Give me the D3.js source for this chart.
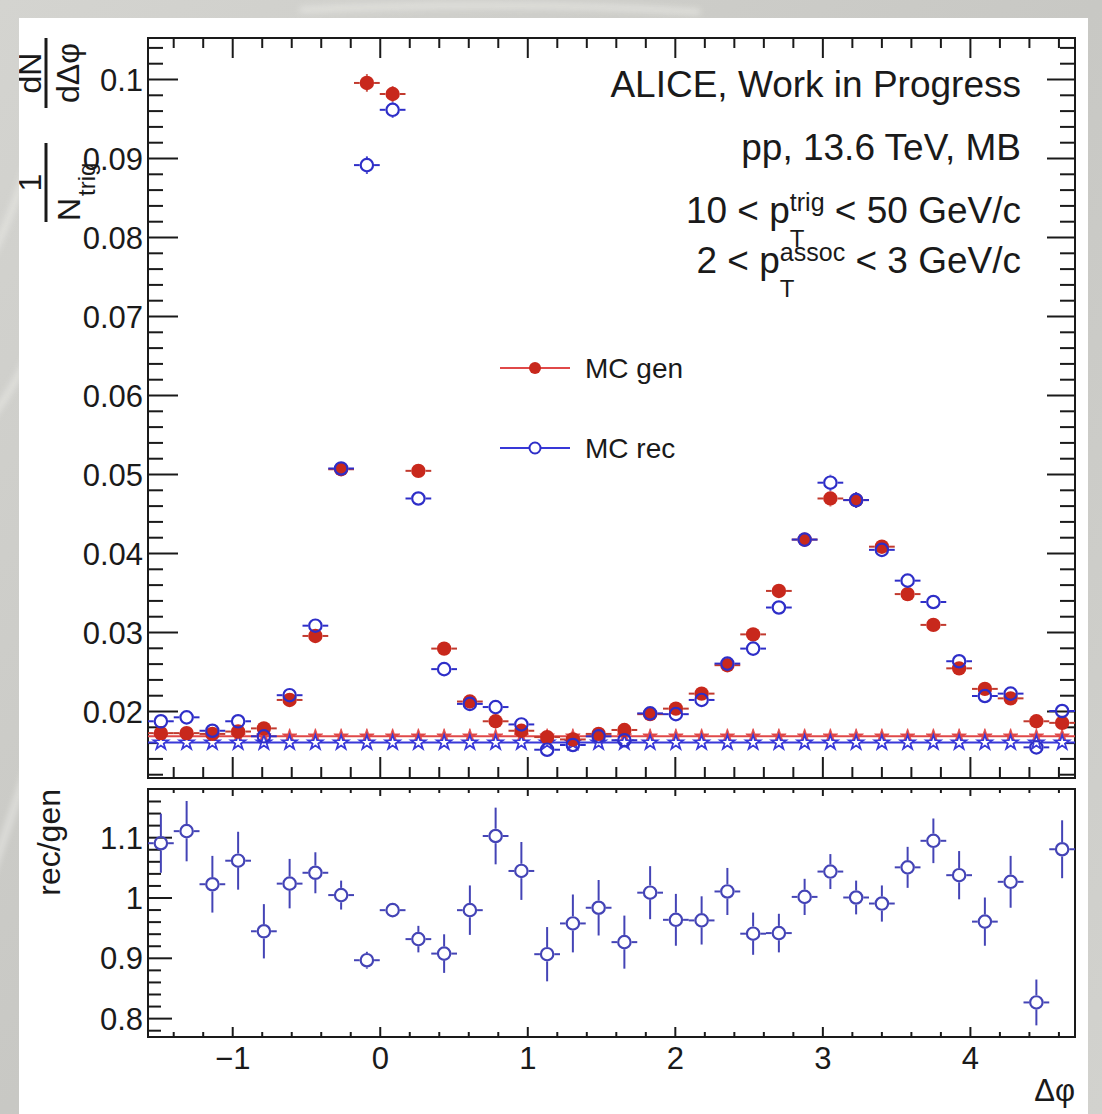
<!DOCTYPE html>
<html>
<head>
<meta charset="utf-8">
<script src="https://cdn.jsdelivr.net/npm/d3@7"></script>
<style>
  html, body { margin: 0; padding: 0; background: #cfcfcb; }
  svg { display: block; }
  text { font-family: "Liberation Sans", Arial, Helvetica, sans-serif; }
</style>
</head>
<body>
<svg id="chart" width="1102" height="1114"></svg>
<script>
// ---- binning of the azimuthal difference ----
const phiMin = -Math.PI / 2;
const phiMax = 3 * Math.PI / 2;
const nBins = 36;

// ---- per-trigger yields, MC generated (filled red) ----
const genValues = [
  0.0172, 0.0172, 0.0171, 0.0174, 0.0178, 0.0214, 0.0295, 0.0506, 0.0995, 0.0981,
  0.0504, 0.0279, 0.0212, 0.0187, 0.0175, 0.0167, 0.0164, 0.0171, 0.0176, 0.0196,
  0.0203, 0.0222, 0.0258, 0.0297, 0.0352, 0.0417, 0.0469, 0.0467, 0.0408, 0.0348,
  0.0309, 0.0254, 0.0228, 0.0216, 0.0187, 0.0185
];
const genErrors = [
  0.0006, 0.0006, 0.0006, 0.0006, 0.0006, 0.0006, 0.0007, 0.0009, 0.0011, 0.0010,
  0.0008, 0.0006, 0.0006, 0.0006, 0.0006, 0.0006, 0.0006, 0.0006, 0.0006, 0.0006,
  0.0006, 0.0006, 0.0007, 0.0007, 0.0008, 0.0009, 0.0010, 0.0010, 0.0009, 0.0008,
  0.0008, 0.0007, 0.0007, 0.0007, 0.0006, 0.0006
];

// ---- per-trigger yields, MC reconstructed (open blue) ----
const recValues = [
  0.0187, 0.0192, 0.0175, 0.0187, 0.0168, 0.0220, 0.0308, 0.0507, 0.0891, 0.0961,
  0.0469, 0.0253, 0.0209, 0.0205, 0.0183, 0.0151, 0.0157, 0.0168, 0.0163, 0.0197,
  0.0196, 0.0214, 0.0260, 0.0279, 0.0331, 0.0417, 0.0489, 0.0467, 0.0404, 0.0365,
  0.0338, 0.0263, 0.0219, 0.0222, 0.0154, 0.0200
];
const recErrors = [
  0.0006, 0.0006, 0.0006, 0.0006, 0.0006, 0.0006, 0.0007, 0.0009, 0.0011, 0.0010,
  0.0008, 0.0006, 0.0006, 0.0006, 0.0006, 0.0006, 0.0006, 0.0006, 0.0006, 0.0006,
  0.0006, 0.0006, 0.0007, 0.0007, 0.0008, 0.0009, 0.0010, 0.0010, 0.0009, 0.0008,
  0.0008, 0.0007, 0.0007, 0.0007, 0.0006, 0.0006
];

// ---- flat baselines (star markers) ----
const genBaseline = 0.0168;
const recBaseline = 0.0160;

// ---- rec/gen ratio ----
const ratioValues = [
  1.090, 1.110, 1.022, 1.061, 0.944, 1.023, 1.041, 1.004, 0.896, 0.979,
  0.931, 0.907, 0.979, 1.102, 1.044, 0.906, 0.957, 0.983, 0.926, 1.008,
  0.963, 0.962, 1.010, 0.940, 0.941, 1.001, 1.043, 1.000, 0.990, 1.050,
  1.094, 1.037, 0.960, 1.026, 0.826, 1.080
];
const ratioErrors = [
  0.049, 0.050, 0.047, 0.048, 0.045, 0.041, 0.034, 0.024, 0.014, 0.012,
  0.022, 0.032, 0.041, 0.047, 0.048, 0.045, 0.048, 0.046, 0.044, 0.044,
  0.043, 0.040, 0.039, 0.035, 0.032, 0.030, 0.029, 0.028, 0.030, 0.034,
  0.037, 0.040, 0.040, 0.043, 0.038, 0.048
];

// ---- tick labels ----
const yieldTicks = [0.02, 0.03, 0.04, 0.05, 0.06, 0.07, 0.08, 0.09, 0.1];
const yieldTickLabels = ["0.02", "0.03", "0.04", "0.05", "0.06", "0.07", "0.08", "0.09", "0.1"];
const ratioTicks = [0.8, 0.9, 1.0, 1.1];
const ratioTickLabels = ["0.8", "0.9", "1", "1.1"];
const phiTicks = [-1, 0, 1, 2, 3, 4];
const phiTickLabels = ["\u22121", "0", "1", "2", "3", "4"];

// ---- layout ----
const FONT = '"Liberation Sans", Arial, Helvetica, sans-serif';
const canvasBox = { x0: 19, y0: 18, x1: 1088, y1: 1114 };
const topPad = { left: 148, right: 1075, top: 38, bottom: 778 };
const ratioPad = { left: 148, right: 1075, top: 789, bottom: 1037 };

const colGen = "#c8281c";
const colGenBar = "#c23a2e";
const colRec = "#2e2ec8";
const colRatio = "#4444b6";
const colGenLine = "#e04848";
const colRecLine = "#3838d8";
const ink = "#1a1a1a";

const svg = d3.select("#chart");

// photo backdrop around the canvas
const defs = svg.append("defs");
const bg = defs.append("linearGradient").attr("id", "bgGrad")
  .attr("x1", 0).attr("y1", 0).attr("x2", 1).attr("y2", 1);
bg.append("stop").attr("offset", 0).attr("stop-color", "#d4d4d0");
bg.append("stop").attr("offset", 0.5).attr("stop-color", "#c8c8c4");
bg.append("stop").attr("offset", 1).attr("stop-color", "#d2d2ce");
svg.append("rect").attr("width", 1102).attr("height", 1114).attr("fill", "url(#bgGrad)");
defs.append("filter").attr("id", "soft").append("feGaussianBlur").attr("stdDeviation", 3);
const swoosh = svg.append("g").attr("filter", "url(#soft)").attr("fill", "none")
  .attr("stroke", "#e6e6e2").attr("stroke-width", 6).attr("opacity", 0.8);
swoosh.append("path").attr("d", "M-10,260 Q20,200 40,120");
swoosh.append("path").attr("d", "M-10,420 Q20,380 40,330");
swoosh.append("path").attr("d", "M-10,880 Q10,820 30,760");
swoosh.append("path").attr("d", "M300,10 Q500,0 700,12");

// white canvas
defs.append("clipPath").attr("id", "canvasClip").append("rect")
  .attr("x", canvasBox.x0).attr("y", canvasBox.y0)
  .attr("width", canvasBox.x1 - canvasBox.x0).attr("height", canvasBox.y1 - canvasBox.y0);
svg.append("rect")
  .attr("x", canvasBox.x0).attr("y", canvasBox.y0)
  .attr("width", canvasBox.x1 - canvasBox.x0).attr("height", canvasBox.y1 - canvasBox.y0)
  .attr("fill", "#ffffff");

const root = svg.append("g").attr("clip-path", "url(#canvasClip)");

// ---- scales ----
const binWidth = (phiMax - phiMin) / nBins;
const binCenters = d3.range(nBins).map(i => phiMin + (i + 0.5) * binWidth);

const x = d3.scaleLinear().domain([phiMin, phiMax]).range([topPad.left, topPad.right]);
const yTop = d3.scaleLinear().domain([0.01152, 0.10519]).range([topPad.bottom, topPad.top]);
const yRatio = d3.scaleLinear().domain([0.7687, 1.1799]).range([ratioPad.bottom, ratioPad.top]);

// ---- axis helper (ROOT style: ticks point into the frame) ----
function tickAxis(axisFn, scale, values, len, transform, labels, pad) {
  const a = axisFn(scale).tickValues(values).tickSize(-len)
    .tickPadding(pad || 6)
    .tickFormat(labels ? ((d, i) => labels[i]) : () => "");
  const g = root.append("g").attr("transform", transform).call(a);
  g.select(".domain").remove();
  g.attr("font-family", FONT).attr("font-size", 31);
  g.selectAll(".tick line").attr("stroke", ink).attr("stroke-width", 2);
  g.selectAll(".tick text").attr("fill", ink);
  return g;
}
const inDomain = (s) => (v) => v >= s.domain()[0] - 1e-9 && v <= s.domain()[1] + 1e-9;
const phiMajor = phiTicks;
const phiMinor = d3.range(-10, 30).map(k => k / 5)
  .filter(v => Math.abs(v - Math.round(v)) > 1e-6).filter(inDomain(x));
const yieldMinor = d3.range(5, 60).map(k => k * 0.002).filter(inDomain(yTop))
  .filter(v => Math.abs(v * 100 - Math.round(v * 100)) > 1e-6);
const ratioMinor = d3.range(30, 70).map(k => k * 0.02).filter(inDomain(yRatio))
  .filter(v => Math.abs(v * 10 - Math.round(v * 10)) > 1e-6);

// ---- upper pad axes ----
tickAxis(d3.axisLeft, yTop, yieldMinor, 15, `translate(${topPad.left},0)`);
tickAxis(d3.axisLeft, yTop, yieldTicks, 30, `translate(${topPad.left},0)`, yieldTickLabels, 5)
  .selectAll(".tick text").attr("dy", "0.36em");
tickAxis(d3.axisRight, yTop, yieldMinor, 15, `translate(${topPad.right},0)`);
tickAxis(d3.axisRight, yTop, yieldTicks, 28, `translate(${topPad.right},0)`);
tickAxis(d3.axisTop, x, phiMinor, 10, `translate(0,${topPad.top})`);
tickAxis(d3.axisTop, x, phiMajor, 20, `translate(0,${topPad.top})`);
tickAxis(d3.axisBottom, x, phiMinor, 11, `translate(0,${topPad.bottom})`);
tickAxis(d3.axisBottom, x, phiMajor, 21, `translate(0,${topPad.bottom})`);
root.append("rect")
  .attr("x", topPad.left).attr("y", topPad.top)
  .attr("width", topPad.right - topPad.left).attr("height", topPad.bottom - topPad.top)
  .attr("fill", "none").attr("stroke", ink).attr("stroke-width", 2);

// ---- ratio pad axes ----
tickAxis(d3.axisLeft, yRatio, ratioMinor, 13, `translate(${ratioPad.left},0)`);
tickAxis(d3.axisLeft, yRatio, ratioTicks, 24, `translate(${ratioPad.left},0)`, ratioTickLabels, 5)
  .selectAll(".tick text").attr("dy", "0.36em");
tickAxis(d3.axisBottom, x, phiMinor, 5, `translate(0,${ratioPad.bottom})`);
tickAxis(d3.axisBottom, x, phiMajor, 10, `translate(0,${ratioPad.bottom})`, phiTickLabels, 10);
tickAxis(d3.axisTop, x, phiMinor, 4, `translate(0,${ratioPad.top})`);
tickAxis(d3.axisTop, x, phiMajor, 7, `translate(0,${ratioPad.top})`);
root.append("rect")
  .attr("x", ratioPad.left).attr("y", ratioPad.top)
  .attr("width", ratioPad.right - ratioPad.left).attr("height", ratioPad.bottom - ratioPad.top)
  .attr("fill", "none").attr("stroke", ink).attr("stroke-width", 2);

// ---- markers with error bars (bars stop at the marker edge) ----
function drawPoints(g, vals, errs, yScale, opt) {
  const r = opt.r;
  vals.forEach((v, i) => {
    const c = binCenters[i];
    const cx = x(c), cy = yScale(v);
    const xl = x(c - binWidth / 2), xr = x(c + binWidth / 2);
    const yt = yScale(v + errs[i]), yb = yScale(v - errs[i]);
    const segs = [[xl, cy, cx - r, cy], [cx + r, cy, xr, cy]];
    if (yt < cy - r) segs.push([cx, yt, cx, cy - r]);
    if (yb > cy + r) segs.push([cx, cy + r, cx, yb]);
    segs.forEach(s => g.append("line")
      .attr("x1", s[0]).attr("y1", s[1]).attr("x2", s[2]).attr("y2", s[3])
      .attr("stroke", opt.bar).attr("stroke-width", opt.barWidth));
    g.append("circle").attr("cx", cx).attr("cy", cy).attr("r", opt.filled ? r : r - 1)
      .attr("fill", opt.filled ? opt.color : "none")
      .attr("stroke", opt.color).attr("stroke-width", opt.filled ? 0 : 2.2);
  });
}

// baselines with star markers
const star = d3.symbol().type(d3.symbolStar).size(66);
function drawBaseline(g, level, color, filled) {
  g.append("line")
    .attr("x1", topPad.left).attr("x2", topPad.right)
    .attr("y1", yTop(level)).attr("y2", yTop(level))
    .attr("stroke", color).attr("stroke-width", 2);
  g.selectAll(null).data(binCenters).join("path")
    .attr("d", star)
    .attr("transform", d => `translate(${x(d)},${yTop(level)})`)
    .attr("fill", filled ? color : "#ffffff")
    .attr("stroke", color).attr("stroke-width", filled ? 0.8 : 1.7);
}

defs.append("clipPath").attr("id", "topClip").append("rect")
  .attr("x", topPad.left).attr("y", topPad.top)
  .attr("width", topPad.right - topPad.left).attr("height", topPad.bottom - topPad.top);
const topLayer = root.append("g").attr("clip-path", "url(#topClip)");
drawBaseline(topLayer, genBaseline, colGenLine, true);
drawBaseline(topLayer, recBaseline, colRecLine, false);
drawPoints(topLayer.append("g"), genValues, genErrors, yTop,
  { r: 7.2, color: colGen, bar: colGenBar, barWidth: 2, filled: true });
drawPoints(topLayer.append("g"), recValues, recErrors, yTop,
  { r: 7.2, color: colRec, bar: colRec, barWidth: 2, filled: false });

const ratioLayer = root.append("g");
drawPoints(ratioLayer, ratioValues, ratioErrors, yRatio,
  { r: 7.2, color: colRatio, bar: colRatio, barWidth: 2, filled: false });

// ---- legend ----
const legend = root.append("g").attr("font-family", FONT).attr("font-size", 28).attr("fill", ink);
[
  { label: "MC gen", y: 368, color: colGenLine, mark: colGen, filled: true },
  { label: "MC rec", y: 448, color: colRecLine, mark: colRec, filled: false }
].forEach(e => {
  legend.append("line").attr("x1", 500).attr("x2", 570).attr("y1", e.y).attr("y2", e.y)
    .attr("stroke", e.color).attr("stroke-width", 2);
  legend.append("circle").attr("cx", 535).attr("cy", e.y).attr("r", e.filled ? 6 : 5.5)
    .attr("fill", e.filled ? e.mark : "#ffffff").attr("stroke", e.mark)
    .attr("stroke-width", e.filled ? 0 : 2);
  legend.append("text").attr("x", 585).attr("y", e.y + 10).text(e.label);
});

// ---- annotations (right aligned) ----
const note = root.append("g").attr("font-family", FONT).attr("fill", ink);
const noteRight = 1021;
note.append("text").attr("x", noteRight).attr("y", 97).attr("text-anchor", "end")
  .attr("font-size", 37).text("ALICE, Work in Progress");
note.append("text").attr("x", noteRight).attr("y", 160).attr("text-anchor", "end")
  .attr("font-size", 37).text("pp, 13.6 TeV, MB");

function ptLine(y, lead, sup, tail) {
  const tailEl = note.append("text").attr("x", noteRight).attr("y", y)
    .attr("text-anchor", "end").attr("font-size", 37).text(tail);
  const tailW = tailEl.node().getComputedTextLength();
  const supEl = note.append("text").attr("y", y - 12).attr("font-size", 25).text(sup);
  const subEl = note.append("text").attr("y", y + 24).attr("font-size", 24).text("T");
  const blockW = Math.max(supEl.node().getComputedTextLength(), subEl.node().getComputedTextLength());
  const blockX = noteRight - tailW - blockW;
  supEl.attr("x", blockX);
  subEl.attr("x", blockX);
  note.append("text").attr("x", blockX).attr("y", y)
    .attr("text-anchor", "end").attr("font-size", 37).text(lead);
}
ptLine(223, "10 < p", "trig", "\u00A0< 50 GeV/c");
ptLine(273, "2 < p", "assoc", "\u00A0< 3 GeV/c");

// ---- axis titles ----
const titles = root.append("g").attr("font-family", FONT).attr("fill", ink);
// 1/N_trig dN/dΔφ, rotated, laid out along the vertical
const yTitle = titles.append("g").attr("transform", "rotate(-90)");
function frac(g, num, uMin, uMax) {
  const uc = (uMin + uMax) / 2;
  g.append("line").attr("x1", uMin).attr("x2", uMax).attr("y1", 46).attr("y2", 46)
    .attr("stroke", ink).attr("stroke-width", 3);
  g.append("text").attr("x", uc).attr("y", 41).attr("text-anchor", "middle")
    .attr("font-size", 32).text(num);
  return uc;
}
const uc1 = frac(yTitle, "dN", -108, -38);
yTitle.append("text").attr("x", uc1).attr("y", 79).attr("text-anchor", "middle")
  .attr("font-size", 32).text("d\u0394\u03C6");
frac(yTitle, "1", -222, -143);
yTitle.append("text").attr("x", -221).attr("y", 80).attr("font-size", 32).text("N");
yTitle.append("text").attr("x", -196).attr("y", 95).attr("font-size", 24).text("trig");

// rec/gen
titles.append("text").attr("transform", "rotate(-90)")
  .attr("x", -789).attr("y", 60).attr("text-anchor", "end")
  .attr("font-size", 32).text("rec/gen");
// Δφ
titles.append("text").attr("x", 1075).attr("y", 1101).attr("text-anchor", "end")
  .attr("font-size", 31).text("\u0394\u03C6");
</script>
</body>
</html>
